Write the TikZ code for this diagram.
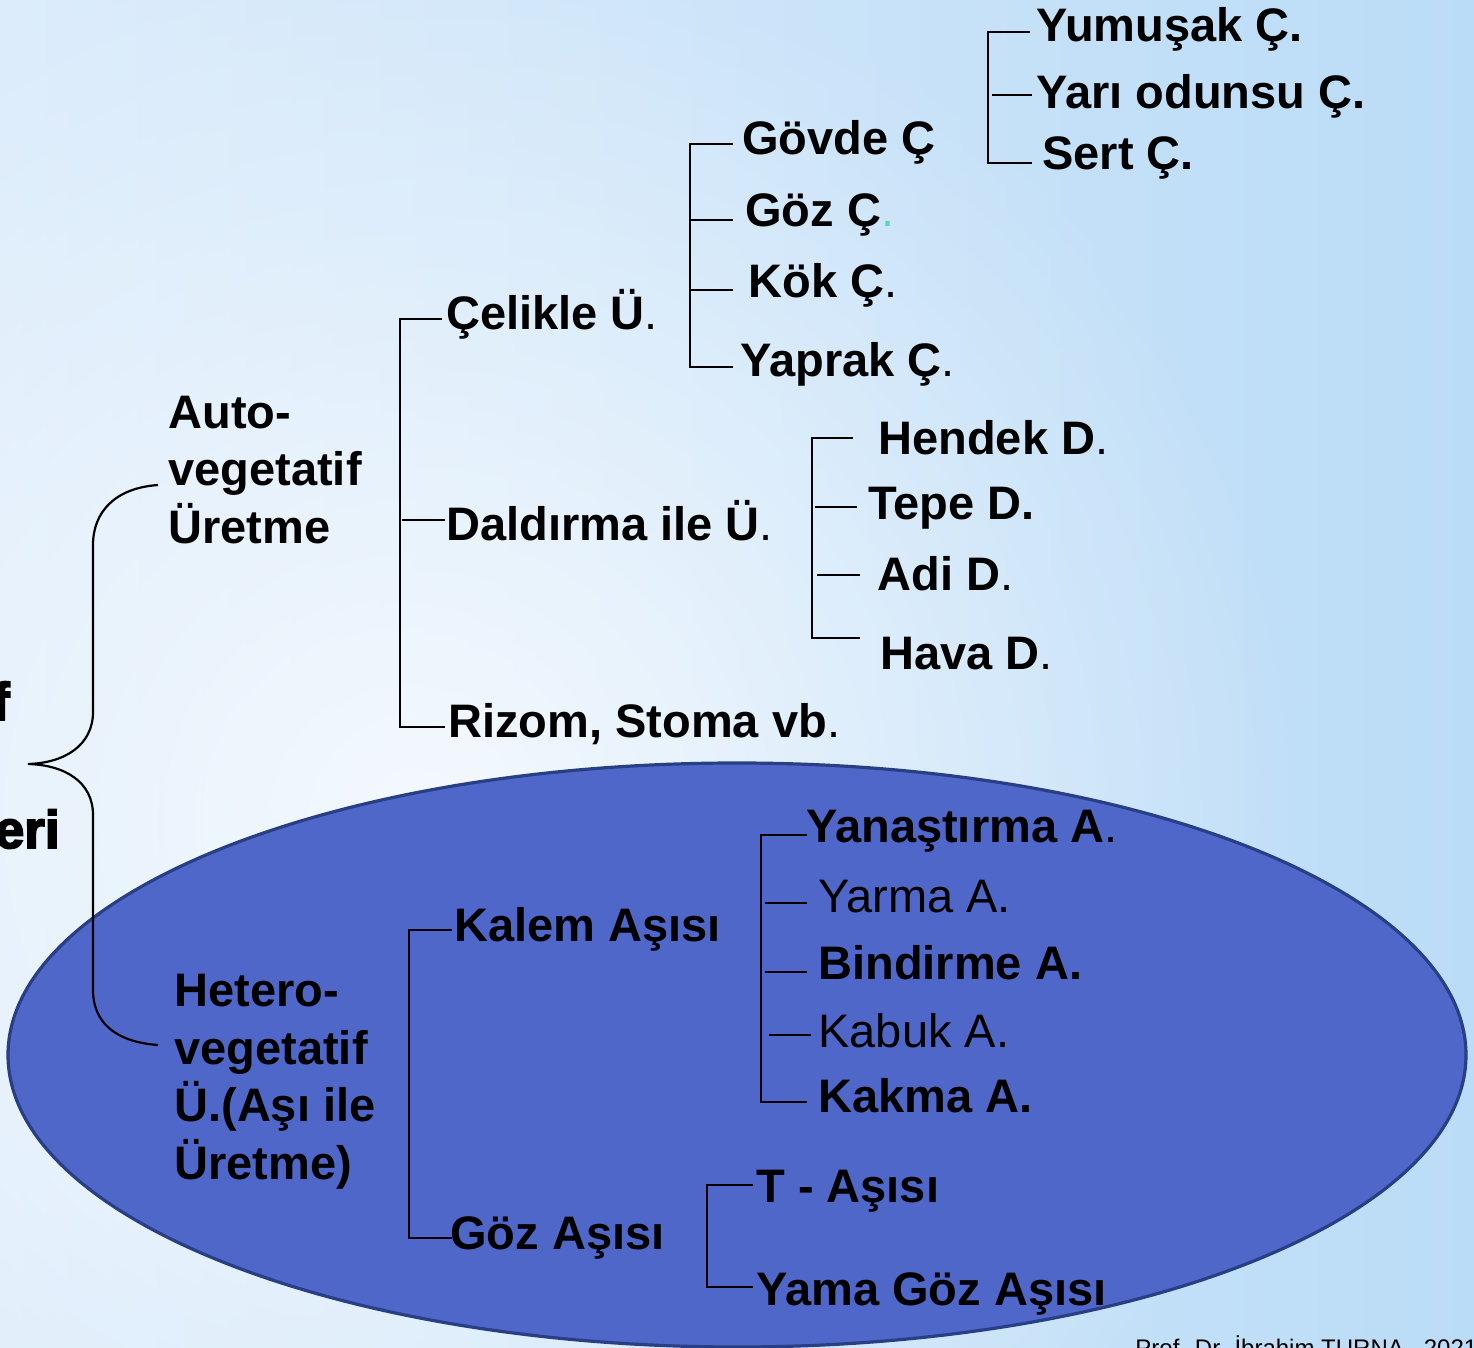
\documentclass[tikz,border=0pt]{standalone}
\usepackage{fontspec}
\setmainfont{Liberation Sans}
\newfontfamily\heavyfont[FakeBold=3.5]{Liberation Sans Bold}
\usetikzlibrary{fadings}
\definecolor{bgleft}{HTML}{DCECFB}
\definecolor{bgright}{HTML}{BBDCF7}
\definecolor{bgglow}{HTML}{F4F9FE}
\definecolor{ellfill}{HTML}{4F67C9}
\definecolor{elldraw}{HTML}{283F85}
\definecolor{dotgreen}{HTML}{5ED6B4}
\newcommand\rdot{{\mdseries.}}
\tikzfading[name=softglow, inner color=transparent!0, outer color=transparent!100]
\tikzset{
  lbl/.style={anchor=base west, inner sep=0pt, font=\fontsize{23.5}{28.75}\selectfont\bfseries},
  lblr/.style={lbl, font=\fontsize{23.5}{28.75}\selectfont\mdseries},
  grp/.style={lbl, align=left},
  tree/.style={line width=1.1pt, black},
  frag/.style={anchor=base east, inner sep=0pt, font=\heavyfont\fontsize{26.5}{30}\selectfont},
}
\begin{document}
\begin{tikzpicture}[x=0.5pt,y=-0.5pt]
\useasboundingbox (0,0) rectangle (1474,1348);
\clip (0,0) rectangle (1474,1348);
% background
\shade[left color=bgleft, right color=bgright] (0,0) rectangle (1474,1348);
\fill[bgglow, path fading=softglow] (420,820) circle [radius=900];
% ellipse
\draw[fill=ellfill, draw=elldraw, line width=1.6pt] (737,1055) ellipse [x radius=729, y radius=292];

% brace
\draw[tree] (158,485) .. controls (115,488) and (93,512) .. (93,545) -- (93,712)
  .. controls (93,745) and (65,763) .. (28,764)
  .. controls (65,765) and (93,782) .. (93,815) -- (93,990)
  .. controls (93,1022) and (115,1042) .. (158,1045);

% brackets
\draw[tree] (1030,32) -- (988,32) -- (988,163) -- (1032,163);
\draw[tree] (992,95) -- (1032,95);

\draw[tree] (733,144) -- (690,144) -- (690,367) -- (733,367);
\draw[tree] (690,220) -- (733,220);
\draw[tree] (690,290) -- (733,290);

\draw[tree] (442,319) -- (400,319) -- (400,727) -- (445,727);
\draw[tree] (402,520) -- (445,520);

\draw[tree] (853,438) -- (812,438) -- (812,638) -- (860,638);
\draw[tree] (815,507) -- (857,507);
\draw[tree] (817,575) -- (860,575);

\draw[tree] (807,835) -- (761,835) -- (761,1102) -- (807,1102);
\draw[tree] (765,903) -- (807,903);
\draw[tree] (765,972) -- (807,972);
\draw[tree] (769,1035) -- (811,1035);

\draw[tree] (452,930) -- (409,930) -- (409,1238) -- (452,1238);

\draw[tree] (753,1185) -- (707,1185) -- (707,1287) -- (753,1287);

% texts
\node[lbl] (yumusak) at (1036,42) {Yumuşak Ç.};
\node[lbl] (yari) at (1036,109) {Yarı odunsu Ç.};
\node[lbl] (sert) at (1042,170) {Sert Ç.};
\node[lbl] (govde) at (742,155) {Gövde Ç};
\node[lbl] (gozc) at (745,227) {Göz Ç{\mdseries\color{dotgreen}.}};
\node[lbl] (kok) at (748,298) {Kök Ç\rdot};
\node[lbl] (yaprak) at (740,377) {Yaprak Ç\rdot};
\node[lbl] (celikle) at (446,330) {Çelikle Ü\rdot};
\node[lbl] (hendek) at (878,454) {Hendek D\rdot};
\node[lbl] (tepe) at (868,519) {Tepe D.};
\node[lbl] (adi) at (877,590) {Adi D\rdot};
\node[lbl] (hava) at (880,669) {Hava D\rdot};
\node[lbl] (daldirma) at (446,540) {Daldırma ile Ü\rdot};
\node[lbl] (rizom) at (448,737) {Rizom, Stoma vb\rdot};
\node[grp] (auto) at (168,543) {Auto-\\vegetatif\\Üretme};

\node[lbl] (yanastirma) at (806,842) {Yanaştırma A\rdot};
\node[lblr] (yarma) at (818,912) {Yarma A.};
\node[lbl] (bindirme) at (818,979) {Bindirme A.};
\node[lblr] (kabuk) at (818,1047) {Kabuk A.};
\node[lbl] (kakma) at (818,1112) {Kakma A.};
\node[lbl] (kalem) at (454,941) {Kalem Aşısı};
\node[lbl] (gozasi) at (450,1249) {Göz Aşısı};
\node[lbl] (tasi) at (756,1202) {T - Aşısı};
\node[lbl] (yama) at (756,1305) {Yama Göz Aşısı};
\node[grp] (hetero) at (174,1179) {Hetero-\\vegetatif\\Ü.(Aşı ile\\Üretme)};

\node[frag] (fragf) at (10,720) {f};
\node[frag] (frageri) at (60,848) {eri};

\node[anchor=base west, inner sep=0pt, font=\fontsize{12}{14}\selectfont] (footer) at (1135,1356) {Prof. Dr. İbrahim TURNA , 2021};
\end{tikzpicture}
\end{document}
